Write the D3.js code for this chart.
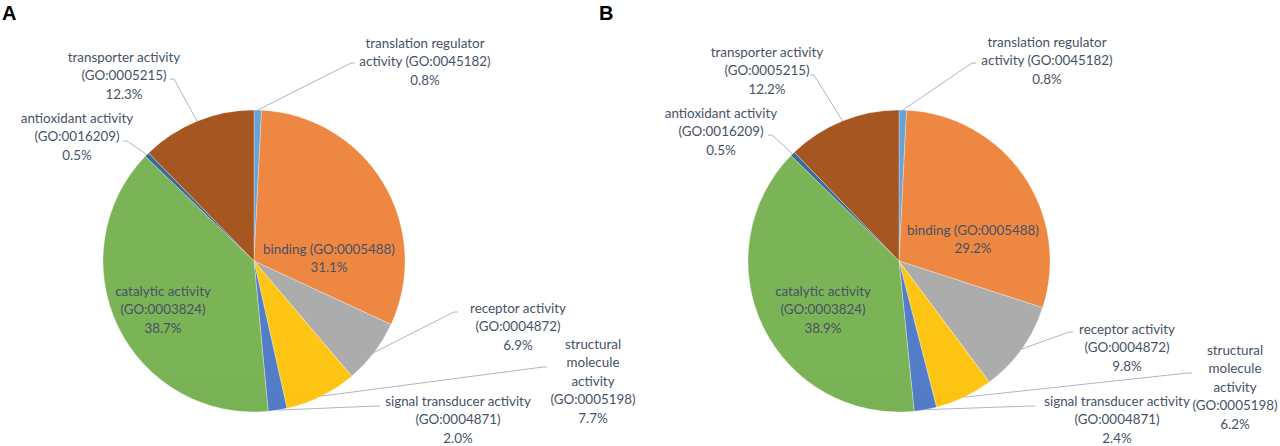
<!DOCTYPE html>
<html lang="en">
<head>
    <meta charset="UTF-8">
    <title>GO molecular function pies</title>
    <script src="https://d3js.org/d3.v7.min.js"></script>
    <style>
        body { margin: 0; background: #fff; }
        .lbl { font-family: Lato, "Open Sans", sans-serif; font-size: 13.4px; fill: #465266; }
        .panel { font-family: "Liberation Sans", Arial, sans-serif; font-size: 20px; font-weight: bold; fill: #000; }
    </style>
</head>
<body>
    <div id="chart"></div>

    <script>
        // data
        const categories = [
            "translation regulator activity (GO:0045182)",
            "binding (GO:0005488)",
            "receptor activity (GO:0004872)",
            "structural molecule activity (GO:0005198)",
            "signal transducer activity (GO:0004871)",
            "catalytic activity (GO:0003824)",
            "antioxidant activity (GO:0016209)",
            "transporter activity (GO:0005215)"
        ];
        const valuesA = [0.8, 31.1, 6.9, 7.7, 2.0, 38.7, 0.5, 12.3];
        const valuesB = [0.8, 29.2, 9.8, 6.2, 2.4, 38.9, 0.5, 12.2];
        const panelLabels = ["A", "B"];

        // how each label is broken into lines
        const labelLines = [
            ["translation regulator", "activity (GO:0045182)"],
            ["binding (GO:0005488)"],
            ["receptor activity", "(GO:0004872)"],
            ["structural", "molecule", "activity", "(GO:0005198)"],
            ["signal transducer activity", "(GO:0004871)"],
            ["catalytic activity", "(GO:0003824)"],
            ["antioxidant activity", "(GO:0016209)"],
            ["transporter activity", "(GO:0005215)"]
        ];

        const colors = ["#5b9bd5", "#ed7d31", "#a5a5a5", "#ffc000", "#4472c4", "#70ad47", "#255e91", "#9e480e"];

        // label placement: [text centre x, first line y, leader start x, leader start y] (null = no leader)
        const layoutA = [
            [425, 43, 355, 63],
            [329, 249, null, null],
            [518, 308, 458, 312],
            [593, 344, 547, 367],
            [458, 401, 380, 406],
            [163, 291, null, null],
            [77, 118, 123, 141],
            [124, 57, 170, 79]
        ];
        const layoutB = [
            [1047, 42, 976, 63],
            [973, 230, null, null],
            [1127, 329, 1073, 332],
            [1235, 350, 1192, 373],
            [1117, 401, 1035, 406],
            [823, 291, null, null],
            [721, 113, 768, 135],
            [767, 52, 810, 75]
        ];

        const width = 1280, height = 446;
        const radius = 151;
        const lineH = 18.5;
        const pct = d3.format(".1f");

        const svg = d3.select("#chart")
                      .append("svg")
                      .attr("width", width)
                      .attr("height", height);

        const defs = svg.append("defs");

        function drawPie(id, values, layout, cx, cy, letter, letterX) {
            // vertical gradient per colour, a bit lighter at the top like the Excel fill
            colors.forEach((c, i) => {
                const g = defs.append("linearGradient")
                              .attr("id", `g${id}${i}`)
                              .attr("gradientUnits", "userSpaceOnUse")
                              .attr("x1", 0).attr("x2", 0)
                              .attr("y1", cy - radius).attr("y2", cy + radius);
                g.append("stop").attr("offset", "0%").attr("stop-color", d3.interpolateRgb(c, "#fff")(0.08));
                g.append("stop").attr("offset", "100%").attr("stop-color", d3.color(c).darker(0.22));
            });

            const pie = d3.pie().sort(null).value(d => d);
            const arcs = pie(values);
            const arc = d3.arc().innerRadius(0).outerRadius(radius);
            const edge = d3.arc().innerRadius(radius).outerRadius(radius);

            const g = svg.append("g").attr("transform", `translate(${cx}, ${cy})`);

            g.selectAll("path.slice")
             .data(arcs)
             .enter()
             .append("path")
             .attr("class", "slice")
             .attr("d", arc)
             .attr("fill", (d, i) => `url(#g${id}${i})`)
             .attr("stroke", "#fff")
             .attr("stroke-width", 0.3);

            // leader lines
            arcs.forEach((d, i) => {
                const [tx, ty, lx, ly] = layout[i];
                if (lx == null) return;
                const [ex, ey] = edge.centroid(d);
                const px = ex + cx, py = ey + cy;
                const elbow = lx > px ? lx - 4 : lx + 4;
                svg.append("polyline")
                   .attr("points", `${lx},${ly} ${elbow},${ly} ${px},${py}`)
                   .attr("fill", "none")
                   .attr("stroke", "#a9b6c8")
                   .attr("stroke-width", 1);
            });

            // labels
            arcs.forEach((d, i) => {
                const [tx, ty] = layout[i];
                const lines = labelLines[i].concat([pct(values[i]) + "%"]);
                const t = svg.append("text")
                             .attr("class", "lbl")
                             .attr("text-anchor", "middle");
                lines.forEach((s, k) => {
                    t.append("tspan")
                     .attr("x", tx)
                     .attr("y", ty + k * lineH)
                     .attr("dy", "0.35em")
                     .text(s);
                });
            });

            svg.append("text")
               .attr("class", "panel")
               .attr("x", letterX)
               .attr("y", 20)
               .text(letter);
        }

        drawPie("a", valuesA, layoutA, 254, 261, panelLabels[0], 2);
        drawPie("b", valuesB, layoutB, 899, 261, panelLabels[1], 599);
    </script>
</body>
</html>
